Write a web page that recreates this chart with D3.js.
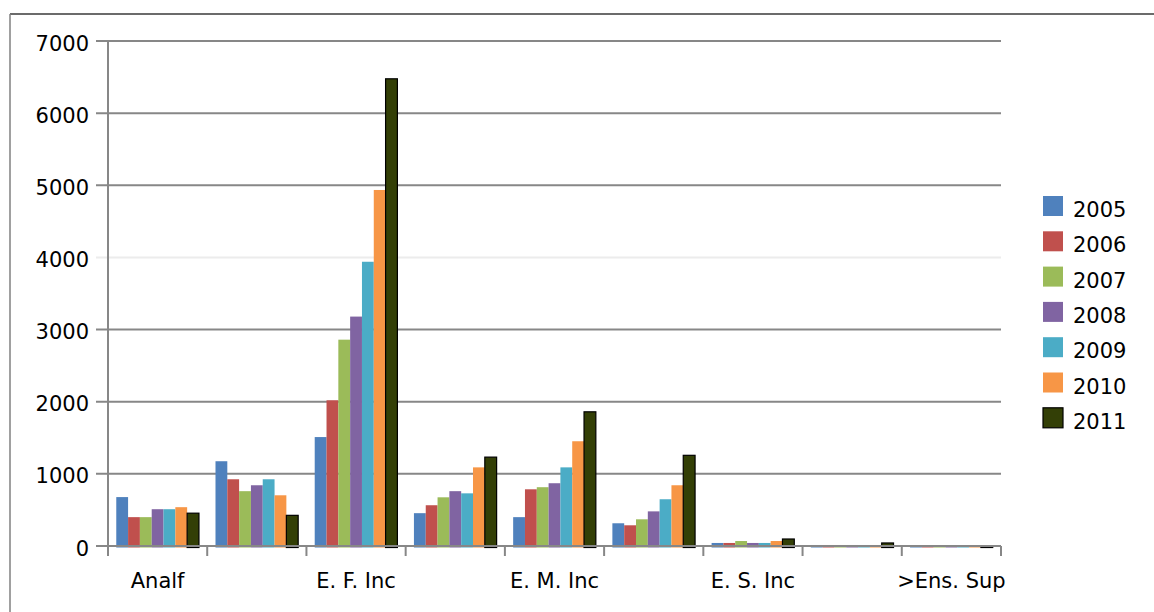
<!DOCTYPE html>
<html>
<head>
<meta charset="utf-8">
<script src="https://cdn.jsdelivr.net/npm/d3@7"></script>
<style>
  body { margin: 0; background: #fff; }
  svg { display: block; font-family: "DejaVu Sans", sans-serif; }
</style>
</head>
<body>
<div id="chart"></div>
<script>
// categorie (solo una su due ha l'etichetta visibile)
const categories = ["Analf", "Alfab", "E. F. Inc", "E. F. Comp", "E. M. Inc", "E. M. Comp", "E. S. Inc", "E. S. Comp", ">Ens. Sup"];
const shownLabels = ["Analf", "E. F. Inc", "E. M. Inc", "E. S. Inc", ">Ens. Sup"];
const years = ["2005", "2006", "2007", "2008", "2009", "2010", "2011"];

// valori per anno, nell'ordine delle categorie
const v2005 = [678, 1175, 1510, 455, 400, 315, 42, 14, 5];
const v2006 = [400, 925, 2020, 565, 786, 287, 42, 14, 5];
const v2007 = [400, 760, 2860, 675, 815, 370, 69, 14, 5];
const v2008 = [510, 842, 3180, 760, 870, 480, 42, 14, 0];
const v2009 = [510, 925, 3940, 730, 1090, 648, 42, 14, 0];
const v2010 = [538, 703, 4935, 1090, 1452, 842, 69, 14, 5];
const v2011 = [455, 425, 6476, 1232, 1860, 1257, 97, 42, 5];

const yTicks = [0, 1000, 2000, 3000, 4000, 5000, 6000, 7000];
const colors = ["#4F81BD", "#C0504D", "#9BBB59", "#8064A2", "#4BACC6", "#F79646", "#333F06"];

const series = [v2005, v2006, v2007, v2008, v2009, v2010, v2011];

const width = 1154, height = 612;
const plot = {left: 108, right: 1001, top: 41, bottom: 546};

const svg = d3.select("#chart")
  .append("svg")
  .attr("width", width)
  .attr("height", height);

// cornice esterna
svg.append("line")
  .attr("x1", 10).attr("x2", width).attr("y1", 14).attr("y2", 14)
  .attr("stroke", "#3a3a3a").attr("stroke-width", 1.5);
svg.append("line")
  .attr("x1", 10).attr("x2", 10).attr("y1", 14).attr("y2", height)
  .attr("stroke", "#808080").attr("stroke-width", 1.5);

const y = d3.scaleLinear()
  .domain([0, 7000])
  .range([plot.bottom, plot.top]);

const x0 = d3.scaleBand()
  .domain(categories)
  .range([plot.left, plot.right]);

const x1 = d3.scaleBand()
  .domain(years)
  .range([0, x0.bandwidth()])
  .paddingOuter(0.7);

// griglia orizzontale
svg.append("g")
  .selectAll("line")
  .data(yTicks)
  .join("line")
  .attr("x1", plot.left - 12)
  .attr("x2", plot.right)
  .attr("y1", d => y(d))
  .attr("y2", d => y(d))
  .attr("stroke", d => d == 4000 ? "#ececec" : "#878787")
  .attr("stroke-width", 2);

// etichette asse Y
svg.append("g")
  .selectAll("text")
  .data(yTicks)
  .join("text")
  .attr("x", 89)
  .attr("y", d => y(d) + 9.5)
  .attr("text-anchor", "end")
  .attr("font-size", 21)
  .attr("fill", "#000")
  .text(d => d);

// asse Y
svg.append("line")
  .attr("x1", plot.left).attr("x2", plot.left)
  .attr("y1", plot.top).attr("y2", plot.bottom + 10)
  .attr("stroke", "#878787").attr("stroke-width", 2);

// barre
const groups = svg.append("g")
  .selectAll("g")
  .data(categories)
  .join("g")
  .attr("transform", d => `translate(${x0(d)},0)`);

groups.selectAll("rect")
  .data((c, ci) => years.map((yr, i) => ({year: yr, value: series[i][ci], i: i})))
  .join("rect")
  .attr("x", d => x1(d.year))
  .attr("width", x1.bandwidth())
  .attr("y", d => y(d.value))
  .attr("height", d => Math.max(0, y(0) - y(d.value) + 1.5))
  .attr("fill", d => colors[d.i])
  .attr("stroke", d => d.i == 6 ? "#000" : "none")
  .attr("stroke-width", 1.2);

// asse X
svg.append("line")
  .attr("x1", plot.left).attr("x2", plot.right)
  .attr("y1", plot.bottom).attr("y2", plot.bottom)
  .attr("stroke", "#878787").attr("stroke-width", 2);

const boundaries = categories.map(c => x0(c)).concat([plot.right]);
svg.append("g")
  .selectAll("line")
  .data(boundaries)
  .join("line")
  .attr("x1", d => d).attr("x2", d => d)
  .attr("y1", plot.bottom).attr("y2", plot.bottom + 10)
  .attr("stroke", "#878787").attr("stroke-width", 2);

svg.append("g")
  .attr("transform", `translate(0,${plot.bottom})`)
  .call(d3.axisBottom(x0).tickSize(0).tickFormat(d => shownLabels.includes(d) ? d : ""))
  .call(g => g.select(".domain").remove())
  .selectAll("text")
  .attr("font-family", "DejaVu Sans, sans-serif")
  .attr("font-size", 21)
  .attr("fill", "#000")
  .attr("dy", 0)
  .attr("y", 42);

// legenda
const legend = svg.append("g")
  .selectAll("g")
  .data(years)
  .join("g")
  .attr("transform", (d, i) => `translate(1043,${196 + i * 35.3})`);

legend.append("rect")
  .attr("width", 20)
  .attr("height", 20)
  .attr("fill", (d, i) => colors[i])
  .attr("stroke", (d, i) => i == 6 ? "#000" : "none")
  .attr("stroke-width", 1.2);

legend.append("text")
  .attr("x", 30)
  .attr("y", 21)
  .attr("font-size", 21)
  .attr("fill", "#000")
  .text(d => d);
</script>
</body>
</html>
